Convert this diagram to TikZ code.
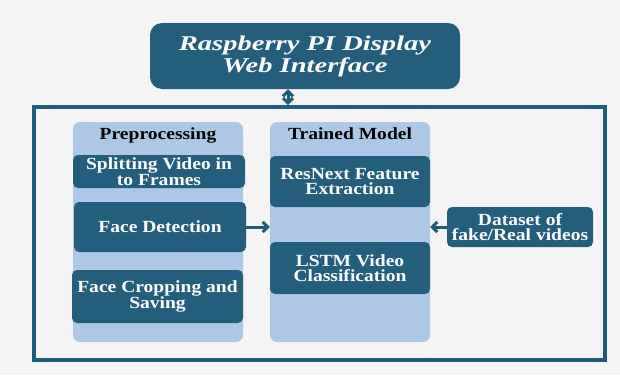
\documentclass[tikz,border=0pt]{standalone}
\usepackage{fontspec}
\setmainfont{Liberation Serif}[FakeStretch=1.15]
\newfontfamily\titlefont{Liberation Serif}[FakeStretch=1.36]
\usepackage{tikz}
\usetikzlibrary{arrows.meta, positioning, calc}
\definecolor{accent}{HTML}{235F7D}
\definecolor{framecol}{HTML}{1E5C7A}
\definecolor{panelblue}{HTML}{ADC8E6}
\definecolor{bggray}{HTML}{F4F4F4}

\begin{document}
\begin{tikzpicture}[x=1pt, y=-1pt, >={Straight Barb[length=5pt, width=10pt]},
  font=\fontsize{17}{15.5}\selectfont\bfseries,
  darkbox/.style={draw=none, fill=accent, rounded corners=5pt, text=white, align=center, inner sep=0pt},
  panel/.style={draw=none, fill=panelblue, rounded corners=7pt, inner sep=0pt},
  conn/.style={draw=framecol, line width=3pt}]
  % Hintergrund
  \fill[bggray] (0,0) rectangle (620,375);
  \useasboundingbox (0,0) rectangle (620,375);

  % Rahmen und oberer Block
  \node[draw=framecol, line width=3.6pt, minimum width=571pt, minimum height=253pt, inner sep=0pt] (frame) at (319.5,233.5) {};
  \node[darkbox, rounded corners=12pt, minimum width=310pt, minimum height=66pt, font=\titlefont\fontsize{21}{22}\selectfont\bfseries\itshape] (web) at (305,56) {Raspberry PI Display\\Web Interface};

  % Panels
  \node[panel, minimum width=170pt, minimum height=220pt] (prep) at (158,232) {};
  \node[panel, minimum width=160pt, minimum height=220pt] (model) at (350,232) {};
  \node[text=black] (preptitle) at (158,135) {Preprocessing};
  \node[text=black] (modeltitle) at (350,134) {Trained Model};

  % Bloecke
  \node[darkbox, minimum width=172pt, minimum height=33pt] (split) at (159,171.5) {Splitting Video in\\to Frames};
  \node[darkbox, minimum width=172pt, minimum height=50pt] (facedet) at (160,227) {Face Detection};
  \node[darkbox, minimum width=171pt, minimum height=53pt] (facecrop) at (157.5,296.5) {Face Cropping and\\Saving};
  \node[darkbox, minimum width=160pt, minimum height=51pt] (resnext) at (350,181.5) {ResNext Feature\\Extraction};
  \node[darkbox, minimum width=160pt, minimum height=52pt] (lstm) at (350,268) {LSTM Video\\Classification};
  \node[darkbox, minimum width=146pt, minimum height=40pt] (dataset) at (520,227) {Dataset of\\fake/Real videos};

  % Pfeile
  \draw[conn, <->] ([xshift=-17pt]web.south) -- ([xshift=-17pt]web.south |- frame.north);
  \draw[conn, ->] (facedet.east) -- (facedet.east -| model.west);
  \draw[conn, ->] (dataset.west) -- (dataset.west -| model.east);
\end{tikzpicture}
\end{document}
